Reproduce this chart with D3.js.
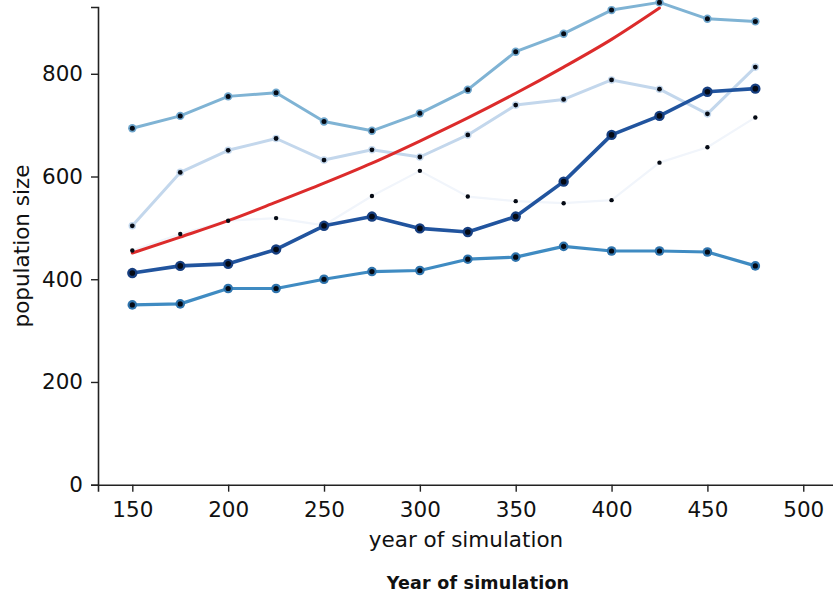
<!DOCTYPE html>
<html>
<head>
<meta charset="utf-8">
<script src="https://cdn.jsdelivr.net/npm/d3@7"></script>
<style>
  html, body { margin: 0; padding: 0; background: #fff; }
  svg { display: block; }
  text { font-family: "DejaVu Sans", sans-serif; fill: #111; }
</style>
</head>
<body>
<svg id="chart" width="833" height="592"></svg>
<script>
// ---- data ----
const years = [150, 175, 200, 225, 250, 275, 300, 325, 350, 375, 400, 425, 450, 475];
const seriesTop    = [694, 718, 756, 763, 707, 689, 723, 769, 843, 878, 924, 939, 907, 902];
const seriesLight  = [504, 608, 651, 674, 632, 652, 638, 681, 739, 750, 788, 770, 722, 813];
const seriesFaint  = [456, 488, 514, 519, 505, 562, 611, 561, 552, 548, 554, 627, 657, 715];
const seriesDark   = [412, 426, 430, 458, 504, 522, 499, 492, 522, 590, 681, 718, 765, 771];
const seriesMid    = [350, 352, 382, 382, 400, 415, 417, 439, 443, 464, 455, 455, 453, 426];
const trendYears   = [150, 175, 200, 225, 250, 275, 300, 325, 350, 375, 400, 425];
const trendValues  = [451, 482, 514, 550, 587, 626, 669, 714, 762, 813, 867, 928];
const xTicks = [150, 200, 250, 300, 350, 400, 450, 500];
const yTicks = [0, 200, 400, 600, 800];
const xLabel = "year of simulation";
const yLabel = "population size";
const title  = "Year of simulation";

// ---- layout ----
const svg = d3.select("#chart");
const x = d3.scaleLinear().domain([132.1, 520]).range([98, 841.6]);
const y = d3.scaleLinear().domain([0, 930]).range([484.7, 7]);

// axes
const xAxis = d3.axisBottom(x).tickValues(xTicks).tickSizeOuter(0).tickSize(7).tickPadding(10);
const yAxis = d3.axisLeft(y).tickValues(yTicks).tickSizeOuter(0).tickSize(7).tickPadding(8);

const gx = svg.append("g").attr("transform", `translate(0,${y(0)})`).call(xAxis);
const gy = svg.append("g").attr("transform", `translate(${x.range()[0]},0)`).call(yAxis);
[gx, gy].forEach(g => {
  g.selectAll("path.domain").attr("stroke", "#222").attr("stroke-width", 1.6);
  g.selectAll(".tick line").attr("stroke", "#222").attr("stroke-width", 1.4);
  g.selectAll(".tick text").attr("font-family", "DejaVu Sans, sans-serif")
    .attr("font-size", 21.5).attr("fill", "#111");
});

// labels
svg.append("text").attr("x", 466).attr("y", 547).attr("text-anchor", "middle")
  .attr("font-size", 21.5).text(xLabel);
svg.append("text").attr("transform", "translate(29,246) rotate(-90)")
  .attr("text-anchor", "middle").attr("font-size", 21.5).text(yLabel);
svg.append("text").attr("x", 478).attr("y", 589).attr("text-anchor", "middle")
  .attr("font-size", 17.5).attr("font-weight", "bold").attr("letter-spacing", 0.2)
  .text(title);

// ---- lines ----
const line = d3.line().x(d => x(d[0])).y(d => y(d[1]));
const specs = [
  { vals: seriesFaint, color: "#f1f5fb", width: 2.2, ring: null,      ringR: 0,   dotR: 2.2 },
  { vals: seriesLight, color: "#c3d7ec", width: 3,   ring: "#c3d7ec", ringR: 3.8, dotR: 2.4 },
  { vals: seriesTop,   color: "#7fb3d4", width: 3,   ring: "#6fa6cc", ringR: 4.2, dotR: 2.5 },
  { vals: seriesMid,   color: "#3f8bc2", width: 3.2, ring: "#2f74ad", ringR: 4.8, dotR: 2.6 },
  { vals: seriesDark,  color: "#21549e", width: 3.6, ring: "#173f80", ringR: 5.2, dotR: 2.8 },
];

const lineG = svg.append("g");
// faint and light first
specs.slice(0, 2).forEach(s => {
  lineG.append("path").datum(years.map((t, i) => [t, s.vals[i]]))
    .attr("d", line).attr("fill", "none").attr("stroke", s.color)
    .attr("stroke-width", s.width).attr("stroke-linejoin", "round");
});
// trend line
lineG.append("path").datum(trendYears.map((t, i) => [t, trendValues[i]]))
  .attr("d", d3.line().x(d => x(d[0])).y(d => y(d[1])).curve(d3.curveMonotoneX))
  .attr("fill", "none").attr("stroke", "#dc2b2b").attr("stroke-width", 3)
  .attr("stroke-linecap", "round");
specs.slice(2).forEach(s => {
  lineG.append("path").datum(years.map((t, i) => [t, s.vals[i]]))
    .attr("d", line).attr("fill", "none").attr("stroke", s.color)
    .attr("stroke-width", s.width).attr("stroke-linejoin", "round");
});

// markers
specs.forEach(s => {
  const g = svg.append("g");
  if (s.ring) {
    g.selectAll("circle.ring").data(years.map((t, i) => [t, s.vals[i]])).join("circle")
      .attr("class", "ring").attr("cx", d => x(d[0])).attr("cy", d => y(d[1]))
      .attr("r", s.ringR).attr("fill", s.ring);
  }
  g.selectAll("circle.dot").data(years.map((t, i) => [t, s.vals[i]])).join("circle")
    .attr("class", "dot").attr("cx", d => x(d[0])).attr("cy", d => y(d[1]))
    .attr("r", s.dotR).attr("fill", "#050a14");
});
</script>
</body>
</html>
